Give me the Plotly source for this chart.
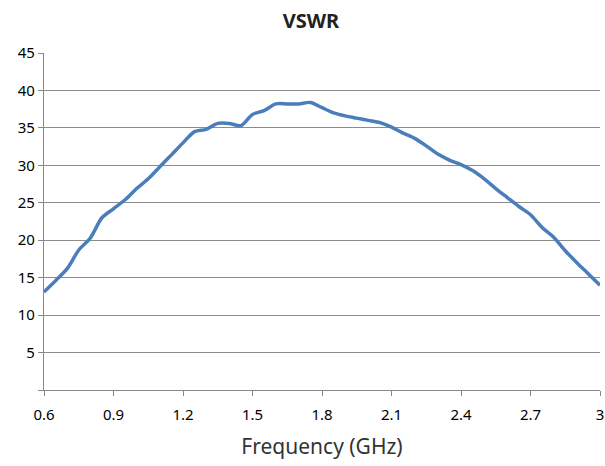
import plotly.graph_objects as go

freq_ghz = [0.60, 0.65, 0.70, 0.75, 0.80, 0.85, 0.90, 0.95, 1.00, 1.05,
            1.10, 1.15, 1.20, 1.25, 1.30, 1.35, 1.40, 1.45, 1.50, 1.55,
            1.60, 1.65, 1.70, 1.75, 1.80, 1.85, 1.90, 1.95, 2.00, 2.05,
            2.10, 2.15, 2.20, 2.25, 2.30, 2.35, 2.40, 2.45, 2.50, 2.55,
            2.60, 2.65, 2.70, 2.75, 2.80, 2.85, 2.90, 2.95, 3.00]
vswr = [13.1, 14.6, 16.2, 18.7, 20.3, 23.0, 24.2, 25.4, 26.9, 28.2,
        29.8, 31.4, 33.0, 34.5, 34.8, 35.6, 35.6, 35.3, 36.8, 37.3,
        38.2, 38.2, 38.2, 38.4, 37.7, 37.0, 36.6, 36.3, 36.0, 35.7,
        35.1, 34.3, 33.6, 32.6, 31.5, 30.7, 30.1, 29.3, 28.2, 26.9,
        25.7, 24.5, 23.4, 21.7, 20.4, 18.6, 17.0, 15.5, 14.0]

x_ticks = [0.6, 0.9, 1.2, 1.5, 1.8, 2.1, 2.4, 2.7, 3.0]
x_tick_labels = ["0.6", "0.9", "1.2", "1.5", "1.8", "2.1", "2.4", "2.7", "3"]
y_ticks = [0, 5, 10, 15, 20, 25, 30, 35, 40, 45]
y_tick_labels = ["", "5", "10", "15", "20", "25", "30", "35", "40", "45"]

fig = go.Figure()
fig.add_trace(go.Scatter(
    x=freq_ghz, y=vswr, mode="lines",
    line=dict(color="#4a7ebb", width=3.5, shape="spline", smoothing=0.8),
    showlegend=False, hoverinfo="x+y",
))

font_family = "Noto Sans, Open Sans, DejaVu Sans, sans-serif"
fig.update_layout(
    width=605, height=466,
    margin=dict(l=44, r=5, t=53, b=76),
    paper_bgcolor="white", plot_bgcolor="white",
    font=dict(family=font_family, size=15, color="#000000"),
    title=dict(text="<b>VSWR</b>", x=0.514, xanchor="center",
               y=1 - 21 / 466, yanchor="middle",
               font=dict(size=20, color="#222222", family=font_family)),
    xaxis=dict(
        range=[0.6, 3.0], tickvals=x_ticks, ticktext=x_tick_labels,
        automargin=False,
        showgrid=False, zeroline=False,
        showline=True, linecolor="#888888", linewidth=1.3,
        ticks="outside", ticklen=5, tickcolor="#888888", tickwidth=1.3,
        ticklabelstandoff=6,
        tickfont=dict(size=15, color="#000000"),
        title=dict(text="Frequency (GHz)", standoff=16,
                   font=dict(size=21, color="#333333")),
    ),
    yaxis=dict(
        range=[0, 45], tickvals=y_ticks, ticktext=y_tick_labels,
        automargin=False,
        showgrid=True, gridcolor="#8c8c8c", gridwidth=1.3,
        zeroline=False,
        showline=True, linecolor="#888888", linewidth=1.3,
        ticks="outside", ticklen=5, tickcolor="#888888", tickwidth=1.3,
        tickfont=dict(size=15, color="#000000"),
    ),
)

fig.write_html(
    "out.html",
    config={"displayModeBar": False},
    post_script="document.body.style.margin='0';document.body.style.overflow='hidden';",
)
